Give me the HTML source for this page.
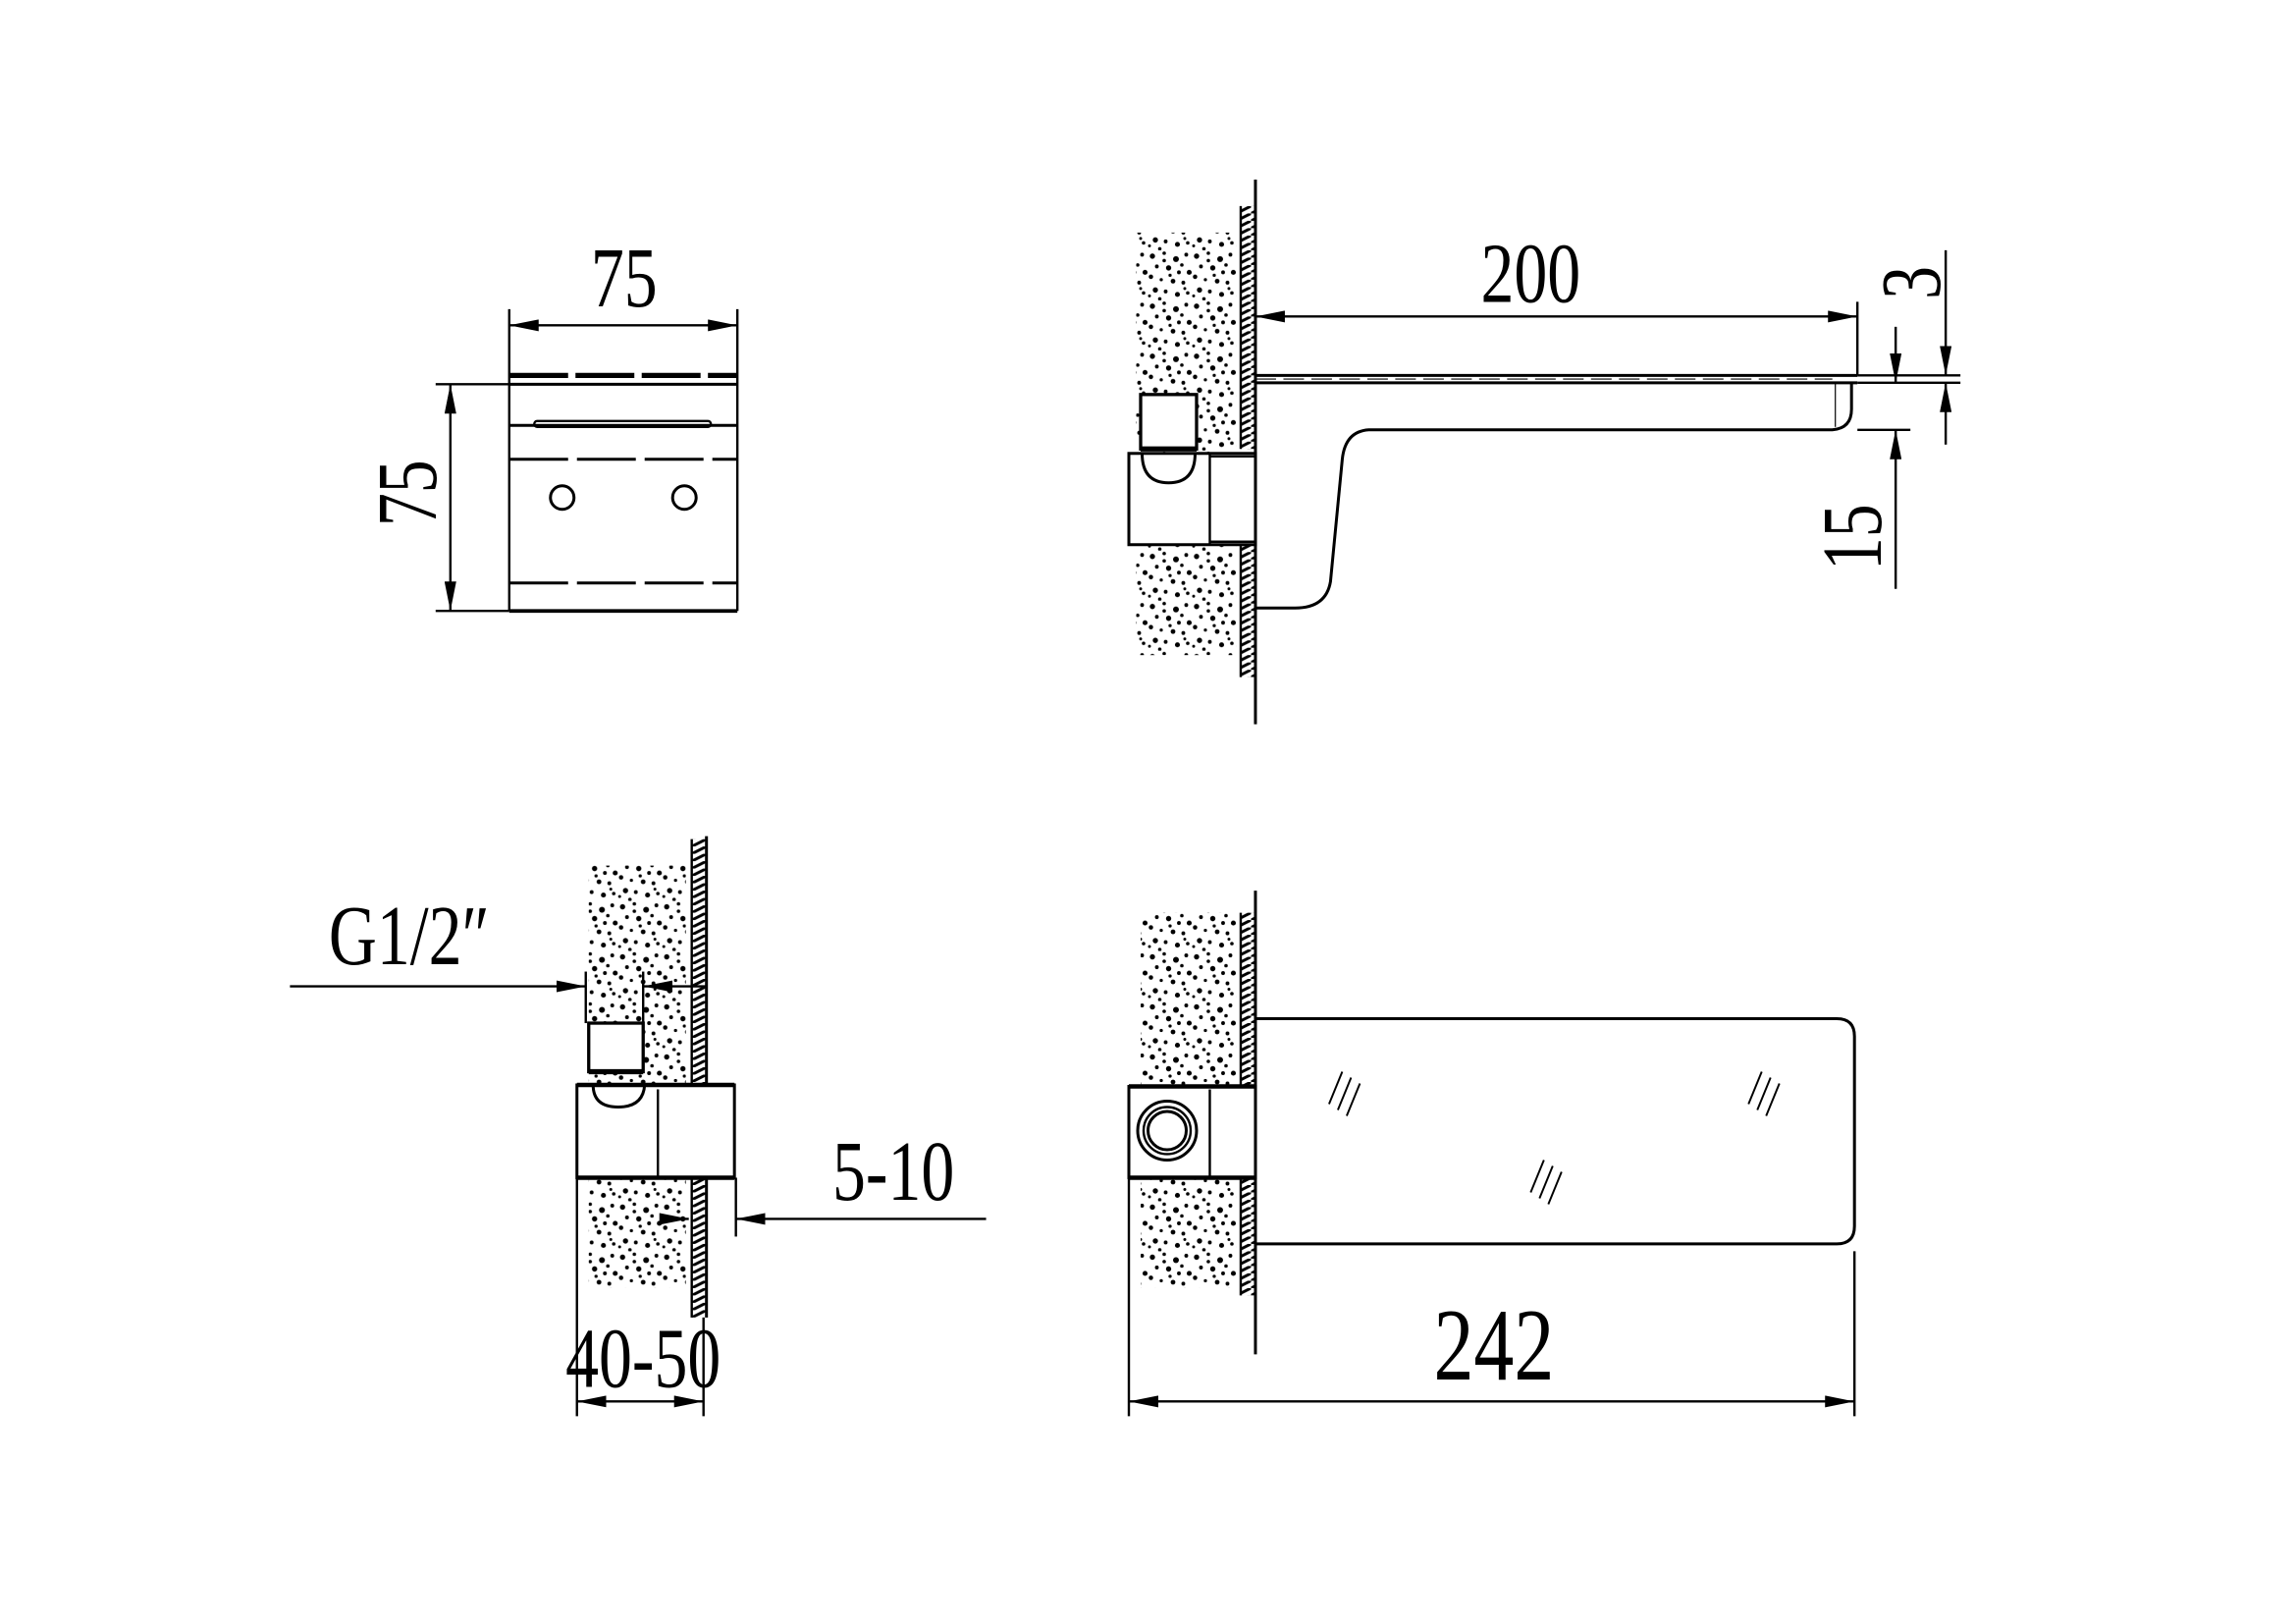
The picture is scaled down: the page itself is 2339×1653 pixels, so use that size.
<!DOCTYPE html>
<html><head><meta charset="utf-8"><style>
html,body{margin:0;padding:0;background:#fff;}
svg{display:block;}
text{font-family:"Liberation Serif",serif;fill:#000;}
</style></head><body>
<svg width="2339" height="1653" viewBox="0 0 1560 1102.5" preserveAspectRatio="none" xmlns="http://www.w3.org/2000/svg">
<defs>
<pattern id="sp" width="30" height="34" patternUnits="userSpaceOnUse">
<g fill="#000">
<circle cx="3" cy="4" r="1.8"/><circle cx="11" cy="2" r="1.2"/><circle cx="19" cy="6" r="2"/><circle cx="26" cy="3" r="1.3"/>
<circle cx="6" cy="11" r="1.3"/><circle cx="14" cy="12" r="1.8"/><circle cx="23" cy="10" r="1.2"/><circle cx="28" cy="15" r="1.7"/>
<circle cx="2" cy="18" r="1.5"/><circle cx="9" cy="20" r="1.1"/><circle cx="17" cy="21" r="1.6"/><circle cx="24" cy="22" r="1.3"/>
<circle cx="5" cy="27" r="1.8"/><circle cx="12" cy="28" r="1.3"/><circle cx="20" cy="30" r="1.7"/><circle cx="27" cy="29" r="1.2"/>
<circle cx="8" cy="33" r="1.2"/><circle cx="15" cy="17" r="1.1"/><circle cx="21" cy="15" r="1.3"/><circle cx="11" cy="7" r="1.2"/>
<circle cx="1" cy="31" r="1"/><circle cx="25" cy="26" r="1"/>
</g></pattern>
<pattern id="ht" width="10" height="5" patternUnits="userSpaceOnUse">
<line x1="0" y1="5" x2="10" y2="0" stroke="#000" stroke-width="2"/>
</pattern>
<marker id="a" viewBox="0 0 20 8" refX="20" refY="4" markerWidth="20" markerHeight="8" markerUnits="userSpaceOnUse" orient="auto-start-reverse">
<path d="M0,0 L20,4 L0,8 Z" fill="#000"/>
</marker>
</defs>
<g stroke="#000" fill="none" stroke-width="1.6">

<!-- ===== Top-left view ===== -->
<line x1="346" y1="210" x2="346" y2="415"/>
<line x1="501" y1="210" x2="501" y2="415"/>
<line x1="346" y1="221" x2="501" y2="221" marker-start="url(#a)" marker-end="url(#a)"/>
<line x1="346" y1="255" x2="501" y2="255" stroke-width="3.5" stroke-dasharray="40 5"/>
<line x1="346" y1="261" x2="501" y2="261" stroke-width="2"/>
<line x1="346" y1="289" x2="501" y2="289" stroke-width="2"/>
<rect x="363" y="286" width="120" height="4" rx="2" stroke-width="1.6"/>
<line x1="346" y1="312" x2="501" y2="312" stroke-width="2" stroke-dasharray="40 6"/>
<circle cx="382" cy="338" r="8" stroke-width="2"/>
<circle cx="465" cy="338" r="8" stroke-width="2"/>
<line x1="346" y1="396" x2="501" y2="396" stroke-width="2" stroke-dasharray="40 6"/>
<line x1="346" y1="415" x2="501" y2="415" stroke-width="2.5"/>
<line x1="296" y1="261" x2="346" y2="261"/>
<line x1="296" y1="415" x2="346" y2="415"/>
<line x1="306" y1="261" x2="306" y2="415" marker-start="url(#a)" marker-end="url(#a)"/>

<!-- ===== Top-right view ===== -->
<rect x="772" y="158" width="68" height="287" fill="url(#sp)" stroke="none"/>
<rect x="843" y="140" width="10" height="165" fill="url(#ht)" stroke="none"/>
<rect x="843" y="370" width="10" height="90" fill="url(#ht)" stroke="none"/>
<line x1="843" y1="140" x2="843" y2="305"/>
<line x1="843" y1="370" x2="843" y2="460"/>
<line x1="853" y1="122" x2="853" y2="492" stroke-width="2"/>
<line x1="853" y1="255" x2="1262" y2="255" stroke-width="2"/>
<line x1="853" y1="260" x2="1262" y2="260" stroke-width="2"/>
<line x1="853" y1="257.5" x2="1245" y2="257.5" stroke-width="0.8" stroke-dasharray="14 5"/>
<path d="M1258,260 L1258,278 Q1258,291 1245,292 L930,292 Q914,293 912,312 L904,395 Q901,413 880,413 L853,413" stroke-width="2"/>
<line x1="1247" y1="260" x2="1247" y2="290" stroke-width="0.8"/>
<rect x="775" y="268" width="38" height="37" stroke-width="2.2" fill="#fff"/>
<line x1="775" y1="305" x2="813" y2="305" stroke-width="3.5"/>
<rect x="767" y="308" width="86" height="62" stroke-width="2" fill="#fff"/>
<path d="M776,308 Q776,328 794,328 Q812,328 812,308" stroke-width="2"/>
<line x1="822" y1="308" x2="822" y2="370" stroke-width="1.6"/>
<line x1="822" y1="310" x2="853" y2="310"/>
<line x1="822" y1="368" x2="853" y2="368"/>
<line x1="1262" y1="205" x2="1262" y2="255"/>
<line x1="853" y1="215" x2="1262" y2="215" marker-start="url(#a)" marker-end="url(#a)"/>
<line x1="1262" y1="255" x2="1332" y2="255"/>
<line x1="1262" y1="260" x2="1332" y2="260"/>
<line x1="1262" y1="292" x2="1298" y2="292"/>
<line x1="1322" y1="170" x2="1322" y2="255" marker-end="url(#a)"/>
<line x1="1322" y1="302" x2="1322" y2="260" marker-end="url(#a)"/>
<line x1="1288" y1="222" x2="1288" y2="260" marker-end="url(#a)"/>
<line x1="1288" y1="400" x2="1288" y2="292" marker-end="url(#a)"/>

<!-- ===== Bottom-left view ===== -->
<rect x="400" y="588" width="66" height="287" fill="url(#sp)" stroke="none"/>
<rect x="470" y="570" width="10" height="167" fill="url(#ht)" stroke="none"/>
<rect x="470" y="800" width="10" height="95" fill="url(#ht)" stroke="none"/>
<line x1="470" y1="570" x2="470" y2="737"/>
<line x1="470" y1="800" x2="470" y2="895"/>
<line x1="480" y1="568" x2="480" y2="895" stroke-width="2"/>
<rect x="400" y="695" width="37" height="33" stroke-width="2.2" fill="#fff"/>
<line x1="400" y1="728" x2="437" y2="728" stroke-width="3.5"/>
<rect x="392" y="737" width="107" height="63" stroke-width="2" fill="#fff"/>
<path d="M403,737 Q403,752 420,752 Q437,752 438,737" stroke-width="2"/>
<line x1="392" y1="737" x2="499" y2="737" stroke-width="3"/>
<line x1="392" y1="800" x2="499" y2="800" stroke-width="3"/>
<line x1="447" y1="740" x2="447" y2="800"/>
<line x1="398" y1="660" x2="398" y2="695"/>
<line x1="437" y1="660" x2="437" y2="695"/>
<line x1="197" y1="670" x2="398" y2="670" marker-end="url(#a)"/>
<line x1="480" y1="670" x2="437" y2="670" marker-end="url(#a)"/>
<line x1="500" y1="800" x2="500" y2="840"/>
<line x1="670" y1="828" x2="500" y2="828" marker-end="url(#a)"/>
<line x1="450" y1="828" x2="468" y2="828" marker-end="url(#a)"/>
<line x1="392" y1="800" x2="392" y2="962"/>
<line x1="478" y1="895" x2="478" y2="962"/>
<line x1="392" y1="952" x2="478" y2="952" marker-start="url(#a)" marker-end="url(#a)"/>

<!-- ===== Bottom-right view ===== -->
<rect x="775" y="620" width="65" height="255" fill="url(#sp)" stroke="none"/>
<rect x="843" y="620" width="10" height="118" fill="url(#ht)" stroke="none"/>
<rect x="843" y="800" width="10" height="80" fill="url(#ht)" stroke="none"/>
<line x1="843" y1="620" x2="843" y2="738"/>
<line x1="843" y1="800" x2="843" y2="880"/>
<line x1="853" y1="605" x2="853" y2="920" stroke-width="2"/>
<path d="M853,692 L1248,692 Q1260,692 1260,704 L1260,833 Q1260,845 1248,845 L853,845" stroke-width="2"/>
<rect x="767" y="738" width="86" height="62" stroke-width="2" fill="#fff"/>
<line x1="767" y1="738" x2="853" y2="738" stroke-width="3"/>
<line x1="767" y1="800" x2="853" y2="800" stroke-width="3"/>
<line x1="822" y1="740" x2="822" y2="800"/>
<circle cx="793" cy="768" r="20" stroke-width="2"/>
<circle cx="793" cy="768" r="16" stroke-width="1.6"/>
<circle cx="793" cy="768" r="13" stroke-width="2"/>
<g stroke-width="1.3">
<line x1="903" y1="750" x2="912" y2="728"/><line x1="909" y1="754" x2="918" y2="732"/><line x1="915" y1="758" x2="924" y2="736"/>
<line x1="1188" y1="750" x2="1197" y2="728"/><line x1="1194" y1="754" x2="1203" y2="732"/><line x1="1200" y1="758" x2="1209" y2="736"/>
<line x1="1040" y1="810" x2="1049" y2="788"/><line x1="1046" y1="814" x2="1055" y2="792"/><line x1="1052" y1="818" x2="1061" y2="796"/>
</g>
<line x1="767" y1="800" x2="767" y2="962"/>
<line x1="1260" y1="850" x2="1260" y2="962"/>
<line x1="767" y1="952" x2="1260" y2="952" marker-start="url(#a)" marker-end="url(#a)"/>
</g>

<g font-size="58">
<text transform="translate(424,208) scale(0.78,1)" text-anchor="middle">75</text>
<text transform="translate(296,335) rotate(-90) scale(0.78,1)" text-anchor="middle">75</text>
<text transform="translate(1040,205) scale(0.78,1)" text-anchor="middle">200</text>
<text transform="translate(1318,192) rotate(-90) scale(0.78,1)" text-anchor="middle">3</text>
<text transform="translate(1278,365) rotate(-90) scale(0.78,1)" text-anchor="middle">15</text>
<text transform="translate(278,655) scale(0.78,1)" text-anchor="middle">G1/2″</text>
<text transform="translate(607,815) scale(0.78,1)" text-anchor="middle">5-10</text>
<text transform="translate(437,942) scale(0.78,1)" text-anchor="middle">40-50</text>
</g>
<text transform="translate(1015,937) scale(0.78,1)" text-anchor="middle" font-size="70">242</text>
</svg>
</body></html>
